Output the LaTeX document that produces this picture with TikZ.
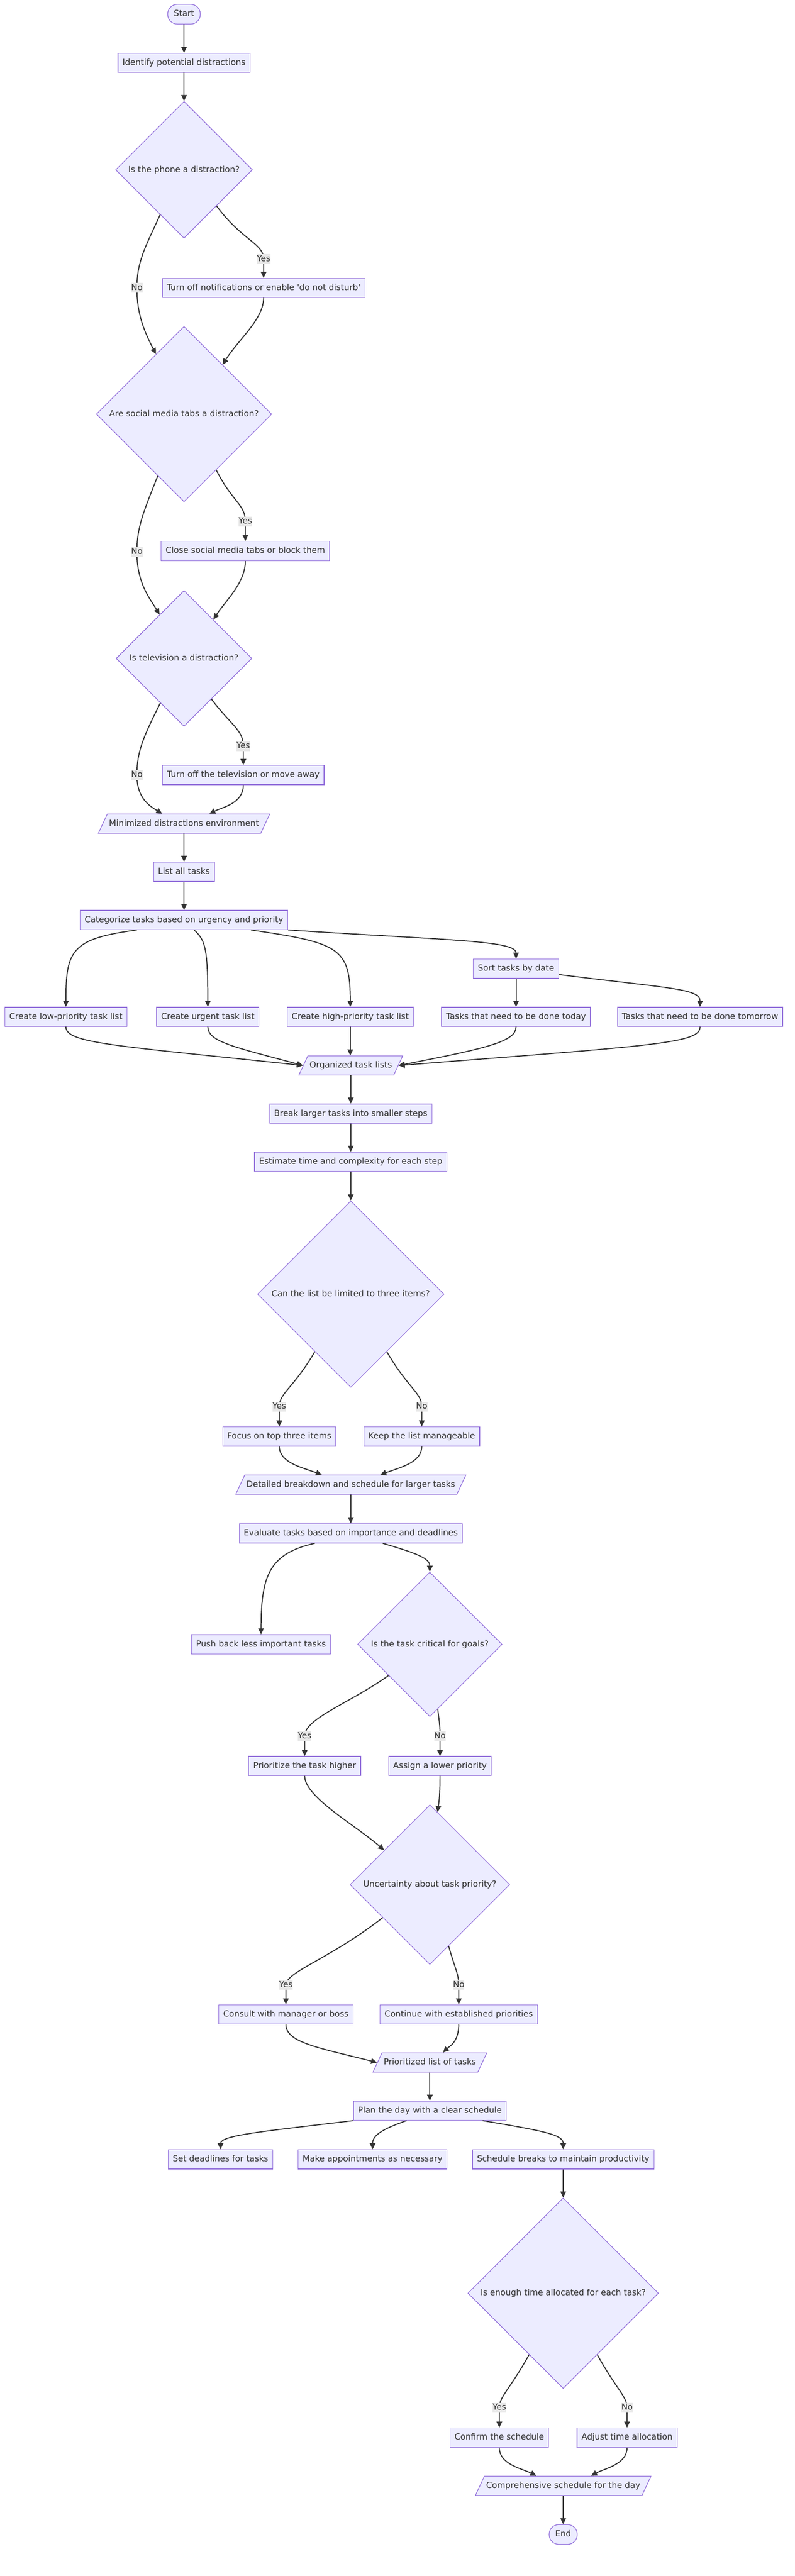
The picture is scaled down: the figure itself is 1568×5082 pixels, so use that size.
\documentclass[tikz,border=0pt]{standalone}
\usepackage{fontspec}
\setmainfont{DejaVu Sans}
\usepackage{xcolor}
\usetikzlibrary{shapes.geometric,arrows.meta}

\definecolor{boxfill}{HTML}{ECECFF}
\definecolor{boxline}{HTML}{9370DB}
\definecolor{linec}{HTML}{333333}
\definecolor{labelbg}{HTML}{E8E8E8}

\tikzset{
  >={Triangle[length=12pt,width=11pt]},
  base/.style={draw=boxline, fill=boxfill, line width=1.3pt, text=linec,
    text height=12.5pt, text depth=3.5pt},
  stepbox/.style={base, rectangle, inner xsep=9pt, inner ysep=11pt},
  ends/.style={base, rectangle, rounded corners=19pt, inner xsep=12pt, inner ysep=11.5pt},
  decision/.style={base, diamond, aspect=1, inner sep=0pt},
  io/.style={base, trapezium, trapezium left angle=65, trapezium right angle=115,
    inner xsep=3.5pt, inner ysep=11pt},
  elabel/.style={fill=labelbg, text=linec, inner xsep=0pt, inner ysep=1pt,
    text height=13pt, text depth=4pt},
  flow/.style={draw=linec, line width=2pt, ->}
}

\begin{document}
\begin{tikzpicture}[x=1pt,y=-1pt,font=\fontsize{16.5}{20}\selectfont]
	\useasboundingbox (0,0) rectangle (1568,5082);

	%distractions
	\node[ends] (start) at (363,28) {Start};
	\node[stepbox] (identify) at (363,124) {Identify potential distractions};
	\node[decision, minimum size=270pt] (phone) at (363,335) {Is the phone a distraction?};
	\node[stepbox] (notif) at (520,568) {Turn off notifications or enable \textquotesingle do not disturb\textquotesingle};
	\node[decision, minimum size=346pt] (social) at (363,817) {Are social media tabs a distraction?};
	\node[stepbox] (closetabs) at (484,1087) {Close social media tabs or block them};
	\node[decision, minimum size=268pt] (television) at (363,1299) {Is television a distraction?};
	\node[stepbox] (tvoff) at (480,1529) {Turn off the television or move away};
	\node[io] (minimized) at (363,1625) {Minimized distractions environment};

	%task lists
	\node[stepbox] (listall) at (363,1720) {List all tasks};
	\node[stepbox] (categorize) at (363,1815) {Categorize tasks based on urgency and priority};
	\node[stepbox] (sortdate) at (1018,1911) {Sort tasks by date};
	\node[stepbox] (low) at (130,2006) {Create low-priority task list};
	\node[stepbox] (urgent) at (410,2006) {Create urgent task list};
	\node[stepbox] (high) at (691,2006) {Create high-priority task list};
	\node[stepbox] (today) at (1018,2006) {Tasks that need to be done today};
	\node[stepbox] (tomorrow) at (1381,2006) {Tasks that need to be done tomorrow};
	\node[io] (organized) at (692,2102) {Organized task lists};

	%breakdown
	\node[stepbox] (breakup) at (692,2197) {Break larger tasks into smaller steps};
	\node[stepbox] (estimate) at (692,2292) {Estimate time and complexity for each step};
	\node[decision, minimum size=368pt] (limit) at (692,2553) {Can the list be limited to three items?};
	\node[stepbox] (focus) at (551,2834) {Focus on top three items};
	\node[stepbox] (keep) at (832,2834) {Keep the list manageable};
	\node[io] (detailed) at (692,2929) {Detailed breakdown and schedule for larger tasks};

	%priorities
	\node[stepbox] (evaluate) at (692,3025) {Evaluate tasks based on importance and deadlines};
	\node[stepbox] (pushback) at (515,3244) {Push back less important tasks};
	\node[decision, minimum size=285pt] (critical) at (848,3244) {Is the task critical for goals?};
	\node[stepbox] (prioritize) at (601,3484) {Prioritize the task higher};
	\node[stepbox] (assign) at (868,3484) {Assign a lower priority};
	\node[decision, minimum size=315pt] (uncertain) at (848,3718) {Uncertainty about task priority?};
	\node[stepbox] (consult) at (564,3974) {Consult with manager or boss};
	\node[stepbox] (established) at (905,3974) {Continue with established priorities};
	\node[io] (prioritized) at (848,4069) {Prioritized list of tasks};

	%schedule
	\node[stepbox] (plan) at (848,4164) {Plan the day with a clear schedule};
	\node[stepbox] (deadlines) at (435,4260) {Set deadlines for tasks};
	\node[stepbox] (appoint) at (735,4260) {Make appointments as necessary};
	\node[stepbox] (breaks) at (1111,4260) {Schedule breaks to maintain productivity};
	\node[decision, minimum size=376pt] (enough) at (1111,4524) {Is enough time allocated for each task?};
	\node[stepbox] (confirm) at (985,4809) {Confirm the schedule};
	\node[stepbox] (adjust) at (1237,4809) {Adjust time allocation};
	\node[io] (comprehensive) at (1111,4904) {Comprehensive schedule for the day};
	\node[ends] (finish) at (1111,5000) {End};

	%label points
	\coordinate (yes1) at (520,511);  \coordinate (no1) at (270,568);
	\coordinate (yes2) at (484,1029); \coordinate (no2) at (270,1089);
	\coordinate (yes3) at (480,1472); \coordinate (no3) at (270,1529);
	\coordinate (yes4) at (551,2775); \coordinate (no4) at (832,2775);
	\coordinate (yes5) at (601,3425); \coordinate (no5) at (868,3425);
	\coordinate (yes6) at (564,3916); \coordinate (no6) at (905,3916);
	\coordinate (yes7) at (985,4750); \coordinate (no7) at (1237,4750);

	%straight arrows
	\foreach \a/\b in {start/identify, identify/phone, minimized/listall, listall/categorize,
		sortdate/today, high/organized, organized/breakup, breakup/estimate, estimate/limit,
		detailed/evaluate, prioritized/plan, breaks/enough, comprehensive/finish}
		\draw[flow] (\a.south) -- (\a.south |- \b.north);

	%distraction branches
	\draw[flow] (phone.-48) .. controls (478,475) and (520,480) .. (yes1) -- (notif.north);
	\draw[flow] (phone.242) .. controls (288,485) and (270,515) .. (no1) .. controls (270,620) and (285,655) .. (social.115);
	\draw[flow] (notif.south) .. controls (520,630) and (470,670) .. (social.52);
	\draw[flow] (social.-60) .. controls (458,990) and (484,995) .. (yes2) -- (closetabs.north);
	\draw[flow] (social.247) .. controls (283,1010) and (270,1040) .. (no2) .. controls (270,1150) and (295,1180) .. (television.119);
	\draw[flow] (closetabs.south) .. controls (484,1150) and (445,1185) .. (television.53);
	\draw[flow] (television.-56) .. controls (455,1430) and (480,1440) .. (yes3) -- (tvoff.north);
	\draw[flow] (television.242) .. controls (285,1450) and (270,1480) .. (no3) .. controls (270,1575) and (295,1590) .. ([xshift=-43pt]minimized.north);
	\draw[flow] (tvoff.south) .. controls (480,1585) and (440,1592) .. ([xshift=50pt]minimized.north);

	%categories
	\draw[flow] ([xshift=-93pt]categorize.south) .. controls (140,1852) and (130,1875) .. (low.north);
	\draw[flow] ([xshift=20pt]categorize.south) .. controls (405,1855) and (410,1870) .. (urgent.north);
	\draw[flow] ([xshift=132pt]categorize.south) .. controls (670,1860) and (691,1870) .. (high.north);
	\draw[flow] (categorize.south east) .. controls (880,1855) and (1018,1855) .. (sortdate.north);
	\draw[flow] ([yshift=8pt]sortdate.south east) .. controls (1320,1950) and (1381,1950) .. (tomorrow.north);
	\draw[flow] (low.south) .. controls (130,2058) and (220,2062) .. (organized.left side);
	\draw[flow] (urgent.south) .. controls (410,2055) and (460,2065) .. (organized.left side);
	\draw[flow] (today.south) .. controls (1018,2055) and (960,2068) .. (organized.right side);
	\draw[flow] (tomorrow.south) .. controls (1381,2058) and (1300,2062) .. (organized.right side);

	%three items
	\draw[flow] (limit.238) .. controls (578,2740) and (551,2748) .. (yes4) -- (focus.north);
	\draw[flow] (limit.-58) .. controls (806,2740) and (832,2748) .. (no4) -- (keep.north);
	\draw[flow] (focus.south) .. controls (551,2885) and (595,2895) .. ([xshift=-57pt]detailed.north);
	\draw[flow] (keep.south) .. controls (832,2885) and (790,2895) .. ([xshift=58pt]detailed.north);

	%priority branches
	\draw[flow] ([xshift=-71pt]evaluate.south) .. controls (530,3065) and (515,3110) .. (pushback.north);
	\draw[flow] ([xshift=63pt]evaluate.south) .. controls (825,3065) and (848,3075) .. (critical.north);
	\draw[flow] (critical.217) .. controls (690,3360) and (601,3390) .. (yes5) -- (prioritize.north);
	\draw[flow] (critical.-83) .. controls (866,3395) and (868,3400) .. (no5) -- (assign.north);
	\draw[flow] (prioritize.south) .. controls (601,3545) and (700,3600) .. (uncertain.143);
	\draw[flow] (assign.south) .. controls (868,3540) and (866,3555) .. (uncertain.84);
	\draw[flow] (uncertain.215) .. controls (650,3865) and (564,3890) .. (yes6) -- (consult.north);
	\draw[flow] (uncertain.-73) .. controls (898,3885) and (905,3895) .. (no6) -- (established.north);
	\draw[flow] (consult.south) .. controls (564,4030) and (630,4040) .. (prioritized.left side);
	\draw[flow] (established.south) .. controls (905,4030) and (885,4038) .. ([xshift=26pt]prioritized.north);

	%day plan
	\draw[flow] (plan.south west) .. controls (520,4205) and (435,4212) .. (deadlines.north);
	\draw[flow] ([xshift=-46pt]plan.south) .. controls (755,4200) and (735,4212) .. (appoint.north);
	\draw[flow] ([xshift=104pt]plan.south) .. controls (1080,4205) and (1111,4212) .. (breaks.north);
	\draw[flow] (enough.241) .. controls (1005,4715) and (985,4728) .. (yes7) -- (confirm.north);
	\draw[flow] (enough.-61) .. controls (1217,4715) and (1237,4728) .. (no7) -- (adjust.north);
	\draw[flow] (confirm.south) .. controls (985,4862) and (1030,4870) .. ([xshift=-53pt]comprehensive.north);
	\draw[flow] (adjust.south) .. controls (1237,4862) and (1192,4870) .. ([xshift=55pt]comprehensive.north);

	%yes & no
	\foreach \c in {yes1,yes2,yes3,yes4,yes5,yes6,yes7}
		\node[elabel] at (\c) {Yes};
	\foreach \c in {no1,no2,no3,no4,no5,no6,no7}
		\node[elabel] at (\c) {No};

\end{tikzpicture}
\end{document}
